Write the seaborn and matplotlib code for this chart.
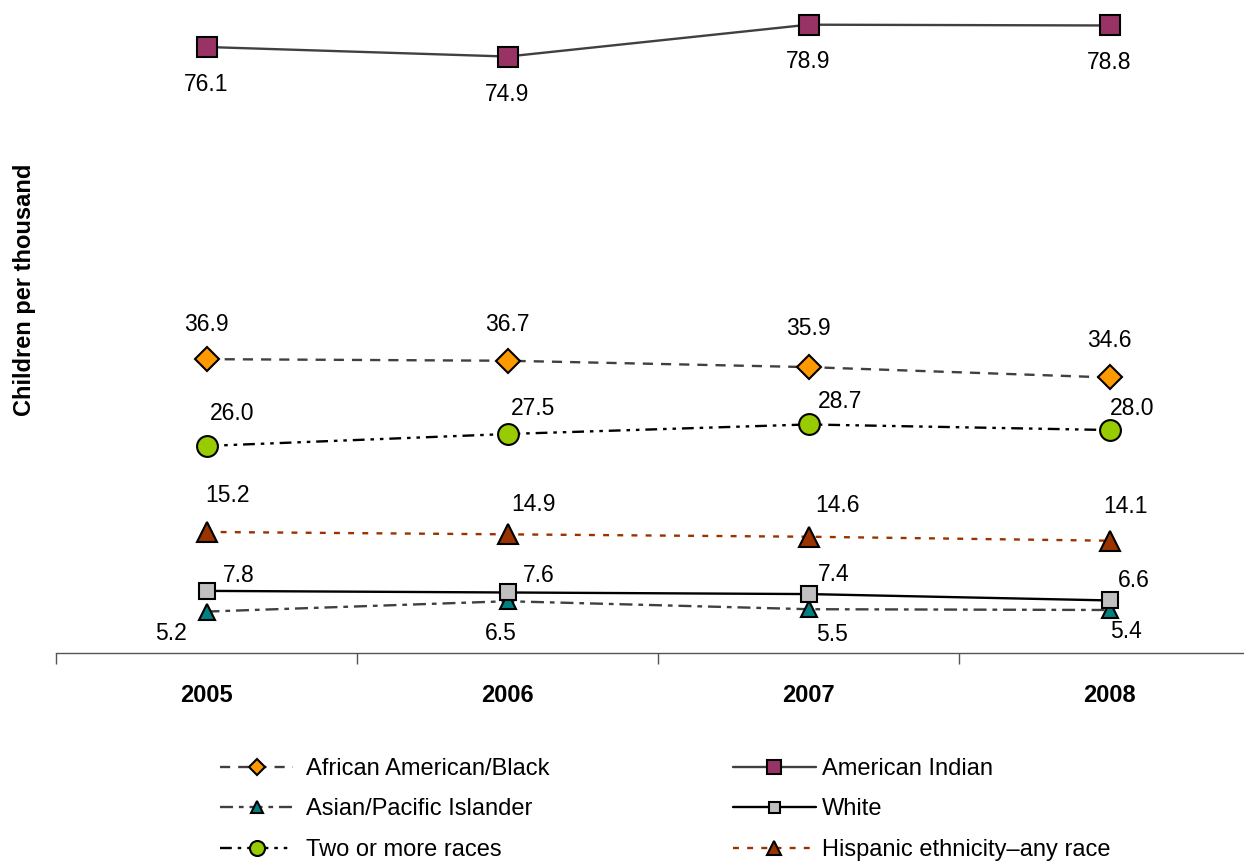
import pandas as pd
import seaborn as sns
import matplotlib.pyplot as plt

years = ["2005", "2006", "2007", "2008"]

african_american = [36.9, 36.7, 35.9, 34.6]
american_indian = [76.1, 74.9, 78.9, 78.8]
asian_pacific = [5.2, 6.5, 5.5, 5.4]
white = [7.8, 7.6, 7.4, 6.6]
two_or_more = [26.0, 27.5, 28.7, 28.0]
hispanic = [15.2, 14.9, 14.6, 14.1]

series_names = ["African American/Black", "American Indian", "Asian/Pacific Islander",
                "White", "Two or more races", "Hispanic ethnicity\u2013any race"]
series_values = [african_american, american_indian, asian_pacific, white, two_or_more, hispanic]

# style for each series: line colour, dash, marker, face colour, marker size
styles = {
    "African American/Black": dict(color="#404040", dashes=(4.3, 3.4), marker="D", mfc="#FF9900", ms=12),
    "American Indian": dict(color="#404040", dashes=None, marker="s", mfc="#993366", ms=14),
    "Asian/Pacific Islander": dict(color="#404040", dashes=(5.5, 2.5, 2, 2.5), marker="^", mfc="#008080", ms=12),
    "White": dict(color="black", dashes=None, marker="s", mfc="#C0C0C0", ms=11),
    "Two or more races": dict(color="black", dashes=(5, 2.5, 1.5, 2.5, 1.5, 2.5), marker="o", mfc="#99CC00", ms=15),
    "Hispanic ethnicity\u2013any race": dict(color="#993300", dashes=(2.5, 3.5), marker="^", mfc="#993300", ms=14),
}
# data label offsets in pixels from the marker
label_offsets = {
    "African American/Black": [(0, 35), (0, 36), (0, 39), (0, 37)],
    "American Indian": [(0, -38), (0, -38), (0, -37), (0, -37)],
    "Asian/Pacific Islander": [(-36, -22), (-7, -32), (24, -25), (16, -22)],
    "White": [(32, 15), (31, 17), (25, 20), (24, 20)],
    "Two or more races": [(26, 32), (26, 26), (32, 23), (23, 22)],
    "Hispanic ethnicity\u2013any race": [(21, 36), (26, 30), (29, 31), (16, 34)],
}

rows = []
for name, vals in zip(series_names, series_values):
    for i, v in enumerate(vals):
        rows.append({"group": name, "pos": i, "value": v})
df = pd.DataFrame(rows)

sns.set_style("white")
plt.rcParams['font.family'] = ['Liberation Sans', 'DejaVu Sans']
plt.rcParams['text.color'] = 'black'
plt.rcParams['xtick.color'] = 'black'

fig = plt.figure(figsize=(12.44, 8.61), dpi=100)
ax = fig.add_axes([56 / 1244, 1 - 653 / 861, (1244 - 56) / 1244, 653 / 861])

handles = {}
for name in series_names:
    st = styles[name]
    sub = df[df["group"] == name]
    sns.lineplot(data=sub, x="pos", y="value", ax=ax, color=st["color"], lw=1.7,
                 marker=st["marker"], markersize=st["ms"], markerfacecolor=st["mfc"],
                 markeredgecolor="black", markeredgewidth=1.5, label=name, legend=False,
                 clip_on=False, zorder=3)
    line = ax.lines[-1]
    if st["dashes"] is not None:
        line.set_dashes(st["dashes"])
    handles[name] = line
    for i, v in enumerate(sub["value"]):
        ax.annotate(f"{v:.1f}", (i, v), xytext=label_offsets[name][i], textcoords="offset pixels",
                    ha="center", va="center", fontsize=16.5)

ax.set_xticks([-0.5, 0.5, 1.5, 2.5])
ax.set_xticklabels([])
ax.set_xticks(range(len(years)), minor=True)
ax.set_xticklabels(years, minor=True, fontsize=17, fontweight="bold")
ax.set_xlim(-0.5, (1244 - 56) / 301 - 0.5)
ax.set_ylim(0, 82)
ax.tick_params(axis="x", which="major", direction="out", length=8, width=1, color="#555555", bottom=True)
ax.tick_params(axis="x", which="minor", length=0, pad=22)
ax.set_yticks([])
ax.set_xlabel("")
ax.set_ylabel("")
for s in ["top", "right", "left"]:
    ax.spines[s].set_visible(False)
ax.spines["bottom"].set_color("#555555")
ax.spines["bottom"].set_linewidth(1)

fig.text(24 / 1244, 1 - 290 / 861, "Children per thousand", rotation=90, ha="center", va="center",
         fontsize=17, fontweight="bold")

col1 = ["African American/Black", "Asian/Pacific Islander", "Two or more races"]
col2 = ["American Indian", "White", "Hispanic ethnicity\u2013any race"]
leg1 = fig.legend([handles[n] for n in col1], col1, loc="upper left",
                  bbox_to_anchor=(220 / 1244, 1 - 758 / 861), frameon=False, fontsize=17,
                  handlelength=3.1, handletextpad=0.55, labelspacing=0.78, markerscale=0.72,
                  borderpad=0, borderaxespad=0)
leg2 = fig.legend([handles[n] for n in col2], col2, loc="upper left",
                  bbox_to_anchor=(733 / 1244, 1 - 758 / 861), frameon=False, fontsize=17,
                  handlelength=3.5, handletextpad=0.25, labelspacing=0.78, markerscale=0.72,
                  borderpad=0, borderaxespad=0)

fig.savefig("out.png", dpi=100)
